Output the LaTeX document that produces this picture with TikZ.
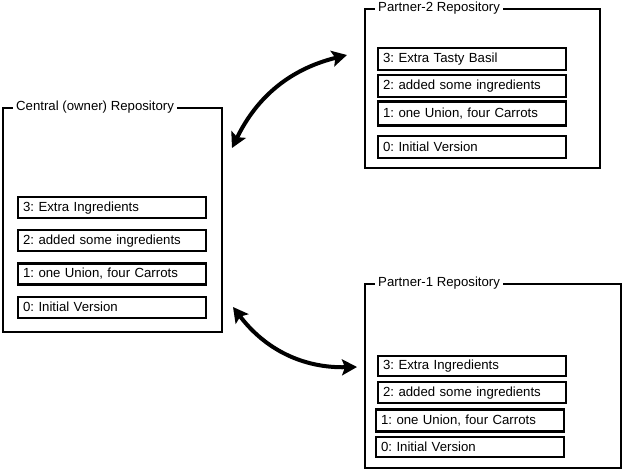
\documentclass[tikz,border=0pt]{standalone}
\usepackage{fontspec}
\setmainfont{Liberation Sans}
\usetikzlibrary{positioning,arrows.meta}

\tikzset{
  repo/.style={draw, line width=2pt, anchor=north west, inner sep=0pt},
  title/.style={fill=white, anchor=west, inner xsep=3pt, inner ysep=1pt},
  commit/.style={draw, line width=2.2pt, anchor=north west, minimum height=21pt,
    text width=178pt, inner xsep=5pt, inner ysep=0pt, align=left},
  sync/.style={line width=4pt, {Stealth[length=15pt,width=16pt,inset=3pt]}-{Stealth[length=15pt,width=16pt,inset=3pt]}}
}

\begin{document}
\frenchspacing
\begin{tikzpicture}[x=1pt, y=-1pt, font=\fontsize{13.2}{15}\selectfont]
  \useasboundingbox (0,0) rectangle (622,470);

  % Define nodes
  \node[repo, minimum width=219pt, minimum height=224pt] (central) at (2,107) {};
  \node[title] (centralT) at ([xshift=11pt]central.north west) {Central (owner) Repository};
  \node[commit] (c3) at (17,196) {3: Extra Ingredients};
  \node[commit, below=10pt of c3]  (c2) {2: added some ingredients};
  \node[commit, below=10pt of c2]  (c1) {1: one Union, four Carrots};
  \node[commit, below=10pt of c1]  (c0) {0: Initial Version};

  \node[repo, minimum width=235pt, minimum height=159pt] (partnerB) at (364,8) {};
  \node[title] (partnerBT) at ([xshift=11pt]partnerB.north west) {Partner-2 Repository};
  \node[commit, minimum height=22pt] (b3) at (377,47) {3: Extra Tasty Basil};
  \node[commit, minimum height=22pt, below=3pt of b3] (b2) {2: added some ingredients};
  \node[commit, minimum height=24pt, below=2pt of b2] (b1) {1: one Union, four Carrots};
  \node[commit, minimum height=22pt, below=8pt of b1] (b0) {0: Initial Version};

  \node[repo, minimum width=256pt, minimum height=184pt] (partnerA) at (364,283) {};
  \node[title] (partnerAT) at ([xshift=11pt]partnerA.north west) {Partner-1 Repository};
  \node[commit, minimum height=20pt] (a3) at (377,355) {3: Extra Ingredients};
  \node[commit, below=4pt of a3] (a2) {2: added some ingredients};
  \node[commit, minimum height=22pt, below=4pt of a2, xshift=-2pt] (a1) {1: one Union, four Carrots};
  \node[commit, minimum height=20pt, below=3pt of a1] (a0) {0: Initial Version};

  \coordinate (centralUp)  at (232,148);
  \coordinate (partnerBIn) at (347,55);
  \coordinate (centralLow) at (233,307);
  \coordinate (partnerAIn) at (357,367);

  % Connect the nodes
  \draw[sync] (centralUp) to[bend left=25] (partnerBIn);
  \draw[sync] (centralLow) to[bend right=27] (partnerAIn);

\end{tikzpicture}
\end{document}
